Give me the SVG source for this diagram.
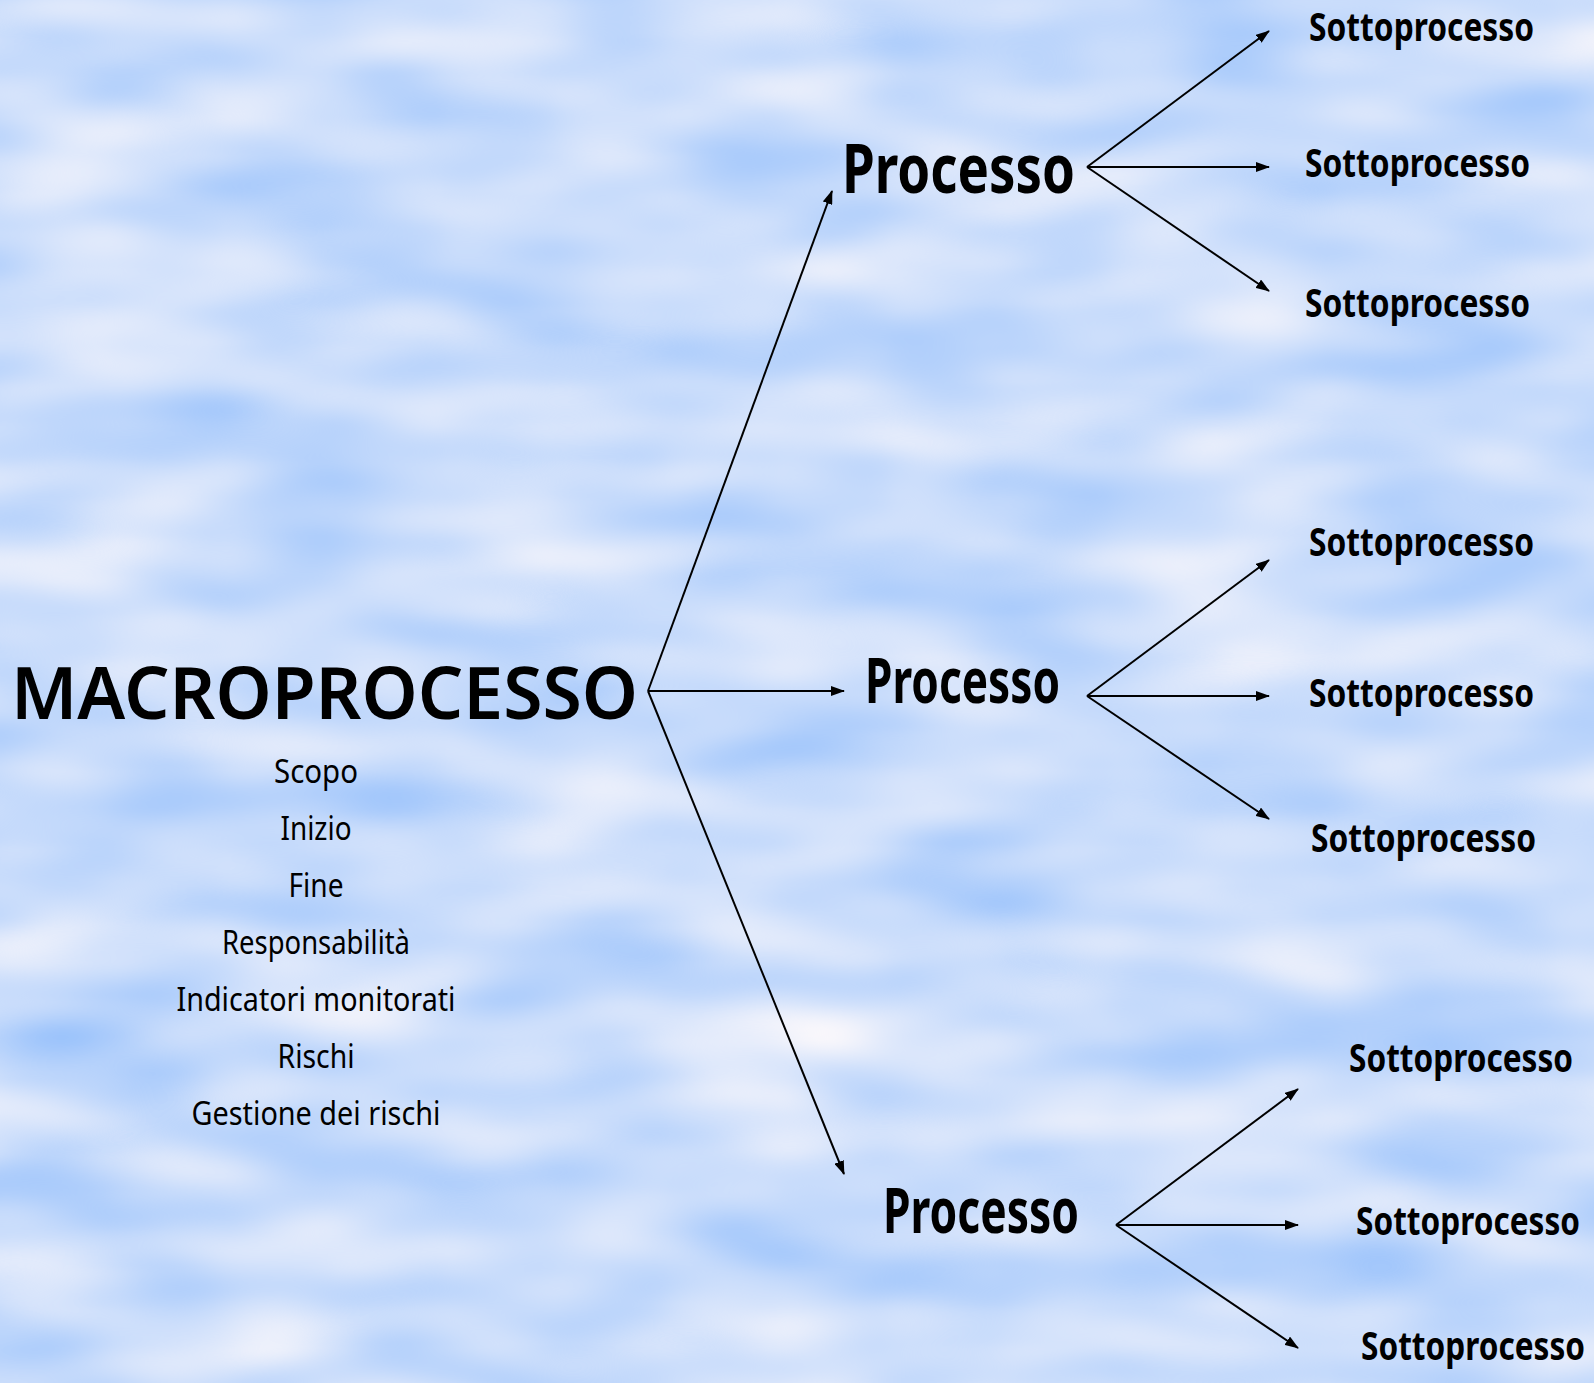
<svg xmlns="http://www.w3.org/2000/svg" width="1594" height="1383" viewBox="0 0 1594 1383">
<defs>
<filter id="clouds" x="0" y="0" width="100%" height="100%" color-interpolation-filters="sRGB">
<feTurbulence type="fractalNoise" baseFrequency="0.0045 0.013" numOctaves="2" seed="7"/>
<feColorMatrix type="matrix" values="0.45 0 0 0 0.565  0.25 0 0 0 0.74  0 0 0 0 0.985  0 0 0 0 1"/>
</filter>
<marker id="ah" viewBox="0 0 14 10" refX="13" refY="5" markerWidth="14" markerHeight="10" markerUnits="userSpaceOnUse" orient="auto">
<path d="M0,0 L14,5 L0,10 Z" fill="#000"/>
</marker>
<style>
.t{font-family:"Noto Sans","Open Sans","Liberation Sans",sans-serif;fill:#000}
.macro{font-size:72px;font-weight:600}
.proc{font-size:68px;font-weight:700}
.proc2{font-size:62px;font-weight:700}
.sub{font-size:40px;font-weight:700}
.item{font-size:33px;font-weight:400;text-anchor:middle}
.c{stroke:#000;stroke-width:2;fill:none;marker-end:url(#ah)}
</style>
</defs>
<rect width="1594" height="1383" fill="#cfe3fb"/>
<rect width="1594" height="1383" filter="url(#clouds)"/>
<g id="connectors">
<line class="c" x1="648" y1="691" x2="832" y2="191"/>
<line class="c" x1="648" y1="691" x2="844" y2="691"/>
<line class="c" x1="648" y1="691" x2="844" y2="1174"/>
<line class="c" x1="1087" y1="167" x2="1269" y2="31"/>
<line class="c" x1="1087" y1="167" x2="1269" y2="167"/>
<line class="c" x1="1087" y1="167" x2="1269" y2="291"/>
<line class="c" x1="1087" y1="696" x2="1269" y2="560"/>
<line class="c" x1="1087" y1="696" x2="1269" y2="696"/>
<line class="c" x1="1087" y1="696" x2="1269" y2="819"/>
<line class="c" x1="1116" y1="1225" x2="1298" y2="1089"/>
<line class="c" x1="1116" y1="1225" x2="1298" y2="1225"/>
<line class="c" x1="1116" y1="1225" x2="1298" y2="1348"/>
</g>
<g id="macro">
<text class="t macro" x="11" y="719" textLength="627" lengthAdjust="spacingAndGlyphs">MACROPROCESSO</text>
<text class="t item" x="316" y="783" textLength="84" lengthAdjust="spacingAndGlyphs">Scopo</text>
<text class="t item" x="316" y="840" textLength="71" lengthAdjust="spacingAndGlyphs">Inizio</text>
<text class="t item" x="316" y="897" textLength="55" lengthAdjust="spacingAndGlyphs">Fine</text>
<text class="t item" x="316" y="954" textLength="188" lengthAdjust="spacingAndGlyphs">Responsabilità</text>
<text class="t item" x="316" y="1011" textLength="279" lengthAdjust="spacingAndGlyphs">Indicatori monitorati</text>
<text class="t item" x="316" y="1068" textLength="77" lengthAdjust="spacingAndGlyphs">Rischi</text>
<text class="t item" x="316" y="1125" textLength="249" lengthAdjust="spacingAndGlyphs">Gestione dei rischi</text>
</g>
<g id="processo1"><text class="t proc" x="842" y="193" textLength="233" lengthAdjust="spacingAndGlyphs">Processo</text></g>
<g id="processo2"><text class="t proc2" x="865" y="703" textLength="195" lengthAdjust="spacingAndGlyphs">Processo</text></g>
<g id="processo3"><text class="t proc2" x="883" y="1233" textLength="196" lengthAdjust="spacingAndGlyphs">Processo</text></g>
<g id="sub1"><text class="t sub" x="1309" y="41" textLength="225" lengthAdjust="spacingAndGlyphs">Sottoprocesso</text></g>
<g id="sub2"><text class="t sub" x="1305" y="177" textLength="225" lengthAdjust="spacingAndGlyphs">Sottoprocesso</text></g>
<g id="sub3"><text class="t sub" x="1305" y="317" textLength="225" lengthAdjust="spacingAndGlyphs">Sottoprocesso</text></g>
<g id="sub4"><text class="t sub" x="1309" y="556" textLength="225" lengthAdjust="spacingAndGlyphs">Sottoprocesso</text></g>
<g id="sub5"><text class="t sub" x="1309" y="707" textLength="225" lengthAdjust="spacingAndGlyphs">Sottoprocesso</text></g>
<g id="sub6"><text class="t sub" x="1311" y="852" textLength="225" lengthAdjust="spacingAndGlyphs">Sottoprocesso</text></g>
<g id="sub7"><text class="t sub" x="1349" y="1072" textLength="224" lengthAdjust="spacingAndGlyphs">Sottoprocesso</text></g>
<g id="sub8"><text class="t sub" x="1356" y="1235" textLength="224" lengthAdjust="spacingAndGlyphs">Sottoprocesso</text></g>
<g id="sub9"><text class="t sub" x="1361" y="1360" textLength="224" lengthAdjust="spacingAndGlyphs">Sottoprocesso</text></g>
</svg>
